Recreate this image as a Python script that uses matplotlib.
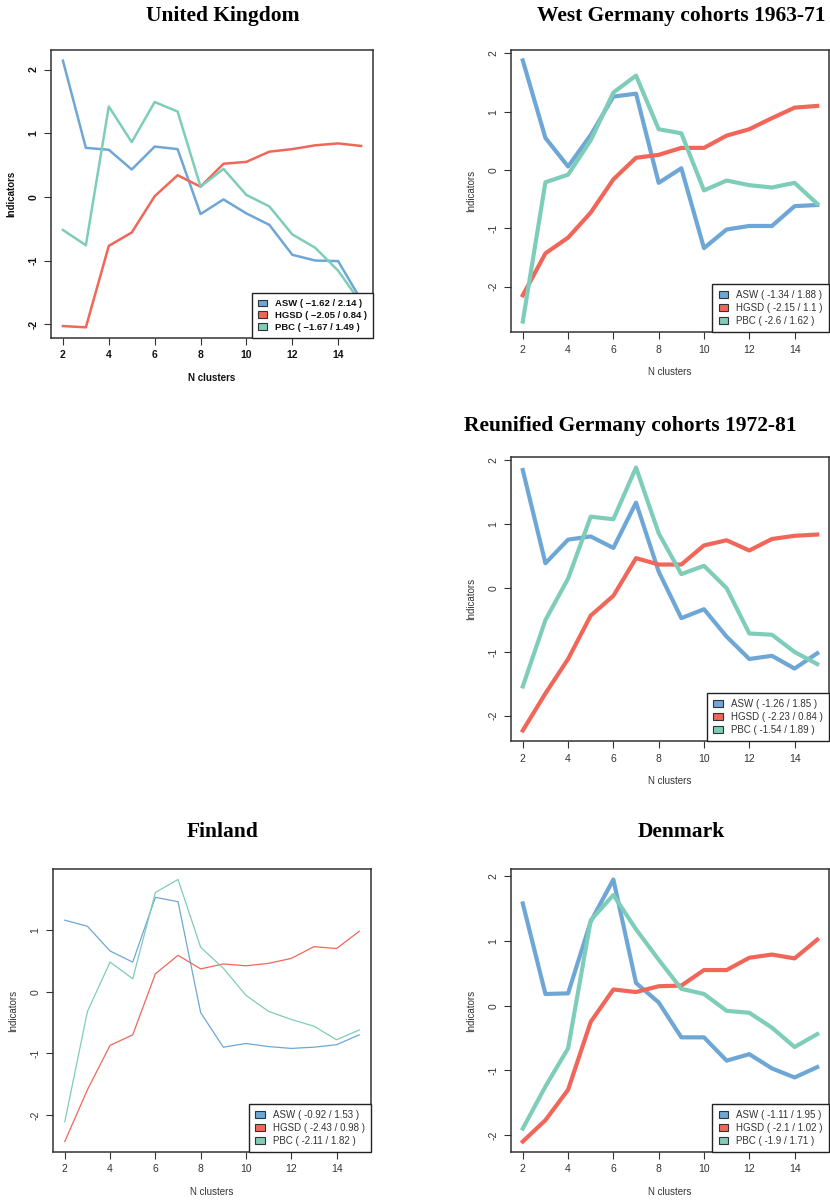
import matplotlib.pyplot as plt
from matplotlib.patches import Patch

n_clusters = list(range(2, 16))

# United Kingdom
uk_asw = [2.14, 0.77, 0.74, 0.43, 0.79, 0.75, -0.27, -0.04, -0.26, -0.44, -0.91, -1.00, -1.01, -1.62]
uk_hgsd = [-2.03, -2.05, -0.77, -0.56, 0.01, 0.34, 0.16, 0.52, 0.55, 0.71, 0.75, 0.81, 0.84, 0.80]
uk_pbc = [-0.52, -0.76, 1.42, 0.86, 1.49, 1.34, 0.16, 0.44, 0.03, -0.15, -0.59, -0.80, -1.16, -1.67]
uk_labels = ['ASW ( \u22121.62 / 2.14 )', 'HGSD ( \u22122.05 / 0.84 )', 'PBC ( \u22121.67 / 1.49 )']

# West Germany cohorts 1963-71
wg_asw = [1.88, 0.55, 0.06, 0.60, 1.26, 1.31, -0.22, 0.03, -1.34, -1.02, -0.96, -0.96, -0.62, -0.60]
wg_hgsd = [-2.15, -1.43, -1.16, -0.73, -0.16, 0.21, 0.26, 0.38, 0.38, 0.59, 0.70, 0.89, 1.07, 1.10]
wg_pbc = [-2.60, -0.21, -0.08, 0.51, 1.33, 1.62, 0.70, 0.63, -0.35, -0.18, -0.26, -0.30, -0.22, -0.58]
wg_labels = ['ASW ( -1.34 / 1.88 )', 'HGSD ( -2.15 / 1.1 )', 'PBC ( -2.6 / 1.62 )']

# Reunified Germany cohorts 1972-81
rg_asw = [1.85, 0.39, 0.76, 0.81, 0.63, 1.34, 0.26, -0.47, -0.33, -0.76, -1.11, -1.06, -1.26, -1.02]
rg_hgsd = [-2.23, -1.65, -1.11, -0.43, -0.12, 0.47, 0.37, 0.37, 0.67, 0.75, 0.59, 0.77, 0.82, 0.84]
rg_pbc = [-1.54, -0.50, 0.15, 1.12, 1.08, 1.89, 0.86, 0.22, 0.35, 0.00, -0.71, -0.73, -1.00, -1.19]
rg_labels = ['ASW ( -1.26 / 1.85 )', 'HGSD ( -2.23 / 0.84 )', 'PBC ( -1.54 / 1.89 )']

# Finland
fi_asw = [1.16, 1.06, 0.66, 0.48, 1.53, 1.46, -0.34, -0.90, -0.84, -0.89, -0.92, -0.90, -0.86, -0.70]
fi_hgsd = [-2.43, -1.59, -0.87, -0.70, 0.29, 0.59, 0.37, 0.45, 0.42, 0.46, 0.54, 0.73, 0.70, 0.98]
fi_pbc = [-2.11, -0.32, 0.48, 0.21, 1.61, 1.82, 0.72, 0.38, -0.06, -0.32, -0.45, -0.56, -0.78, -0.62]
fi_labels = ['ASW ( -0.92 / 1.53 )', 'HGSD ( -2.43 / 0.98 )', 'PBC ( -2.11 / 1.82 )']

# Denmark
dk_asw = [1.58, 0.18, 0.19, 1.30, 1.95, 0.35, 0.05, -0.49, -0.49, -0.85, -0.75, -0.97, -1.11, -0.95]
dk_hgsd = [-2.10, -1.77, -1.30, -0.25, 0.25, 0.21, 0.30, 0.31, 0.55, 0.55, 0.74, 0.79, 0.73, 1.02]
dk_pbc = [-1.90, -1.25, -0.66, 1.32, 1.71, 1.18, 0.71, 0.26, 0.18, -0.08, -0.11, -0.34, -0.64, -0.44]
dk_labels = ['ASW ( -1.11 / 1.95 )', 'HGSD ( -2.1 / 1.02 )', 'PBC ( -1.9 / 1.71 )']

colors = ['#6ea7d6', '#f0675a', '#7ecdb9']

W, H = 830, 1203
fig = plt.figure(figsize=(W / 100, H / 100), dpi=100)


def panel(box, title, title_xy, series, labels, lw, bold=False, yticks=(-2, -1, 0, 1, 2)):
    x0, y0, x1, y1 = box
    ax = fig.add_axes([x0 / W, 1 - y1 / H, (x1 - x0) / W, (y1 - y0) / H])
    for s, c in zip(series, colors):
        ax.plot(n_clusters, s, color=c, lw=lw, solid_joinstyle='round')
    lo = min(min(s) for s in series)
    hi = max(max(s) for s in series)
    pad = (hi - lo) * 0.04
    ax.set_ylim(lo - pad, hi + pad)
    ax.set_xlim(1.48, 15.52)
    ax.set_xticks(range(2, 15, 2))
    ax.set_yticks(list(yticks))
    weight = 'bold' if bold else 'normal'
    tcol = '#111111' if bold else '#333333'
    ax.set_xticklabels([str(v) for v in range(2, 15, 2)], fontsize=7.5, fontweight=weight,
                       color=tcol, family='Liberation Sans')
    ax.set_yticklabels([str(v) for v in yticks], fontsize=7.5, fontweight=weight,
                       color=tcol, rotation=90, va='center', family='Liberation Sans')
    ax.tick_params(direction='out', length=5, width=0.8, color='#333333', pad=4)
    for sp in ax.spines.values():
        sp.set_color('#333333')
        sp.set_linewidth(1.1)
    ax.set_xlabel('N clusters', fontsize=7, fontweight=weight, color=tcol,
                  family='Liberation Sans', labelpad=9)
    ax.set_ylabel('Indicators', fontsize=7, fontweight=weight, color=tcol,
                  family='Liberation Sans', labelpad=9)
    fig.text(title_xy[0] / W, 1 - title_xy[1] / H, title, fontsize=15.5, fontweight='bold',
             family='Liberation Serif', ha='center', va='center')
    handles = [Patch(facecolor=c, edgecolor='#333333', linewidth=0.8) for c in colors]
    leg = ax.legend(handles, labels, loc='lower right', borderaxespad=0, fancybox=False,
                    framealpha=1, edgecolor='#222222', handlelength=1.0, handleheight=0.7,
                    handletextpad=0.8, labelspacing=0.3, borderpad=0.65,
                    prop={'family': 'Liberation Sans', 'size': 6.8 if bold else 7.0,
                          'weight': weight})
    leg.get_frame().set_linewidth(1.0)
    for t in leg.get_texts():
        t.set_color(tcol)
    return ax


panel((51, 50, 373, 338), 'United Kingdom', (223, 16),
      [uk_asw, uk_hgsd, uk_pbc], uk_labels, 1.8, bold=True)
panel((511, 50, 829, 332), 'West Germany cohorts 1963-71', (681, 16),
      [wg_asw, wg_hgsd, wg_pbc], wg_labels, 3.0)
panel((511, 457, 829, 741), 'Reunified Germany cohorts 1972-81', (630, 426),
      [rg_asw, rg_hgsd, rg_pbc], rg_labels, 3.0)
panel((53, 869, 371, 1152), 'Finland', (223, 832),
      [fi_asw, fi_hgsd, fi_pbc], fi_labels, 0.9, yticks=(-2, -1, 0, 1))
panel((511, 869, 829, 1152), 'Denmark', (681, 832),
      [dk_asw, dk_hgsd, dk_pbc], dk_labels, 3.0)

fig.savefig('out.png', dpi=100, facecolor='white')
